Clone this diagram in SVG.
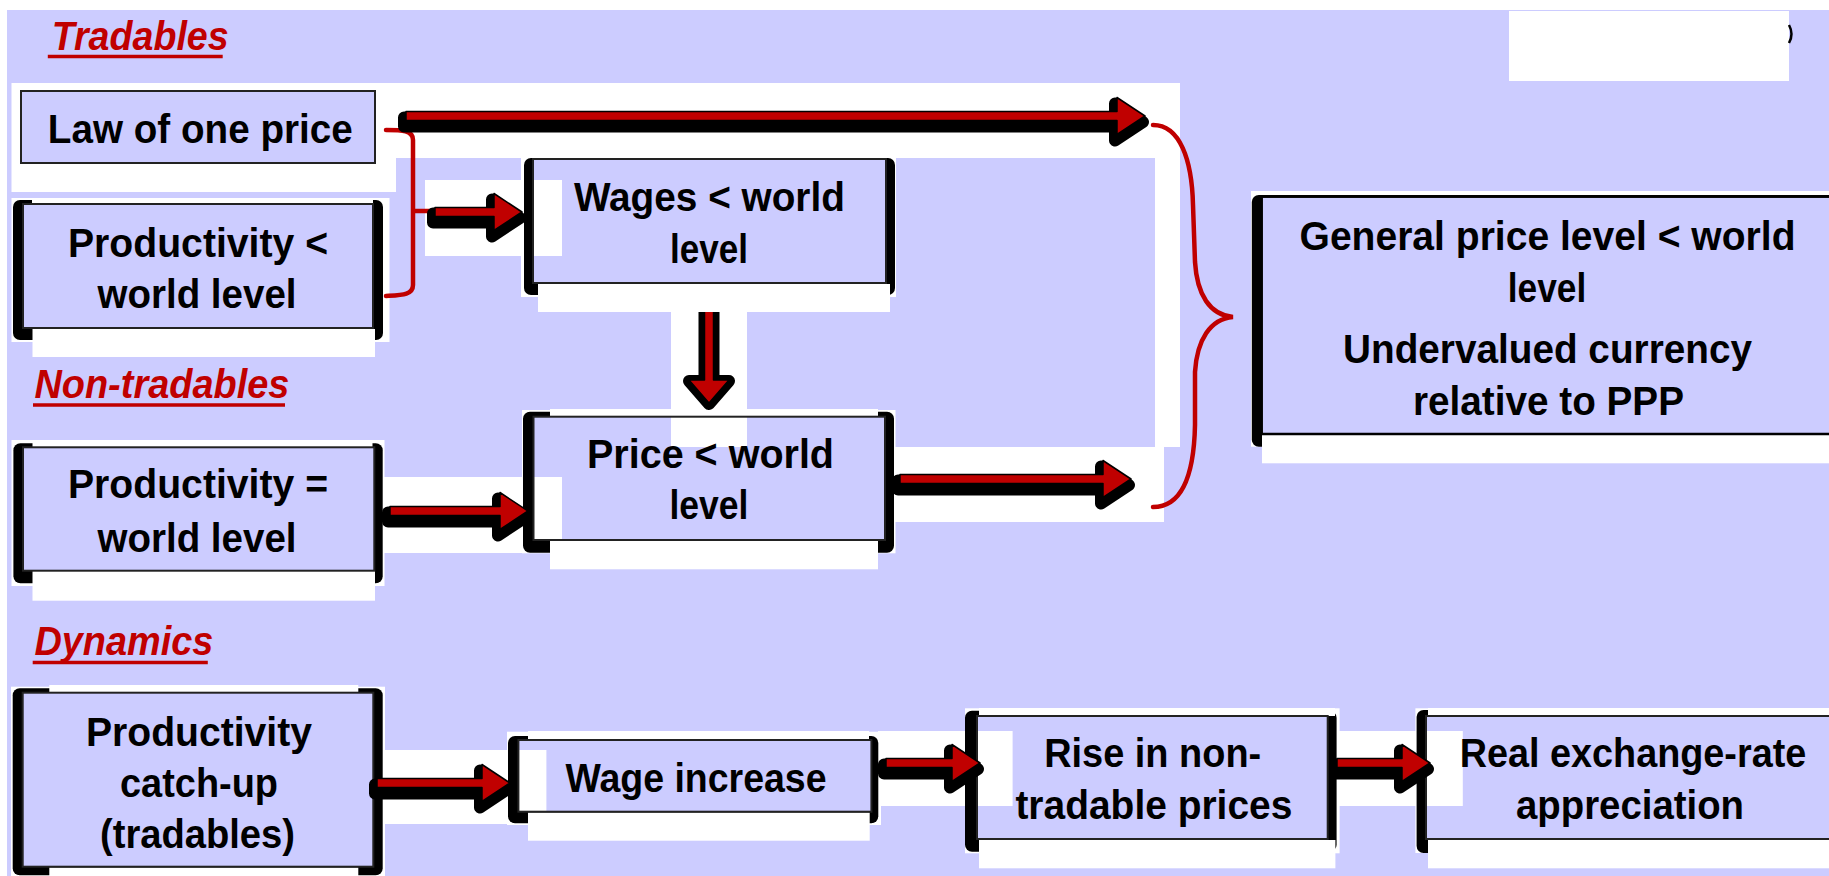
<svg xmlns="http://www.w3.org/2000/svg" xmlns:xlink="http://www.w3.org/1999/xlink" width="1829" height="876" viewBox="0 0 1829 876">
<style>
.bk{fill:#000}
.w{fill:#fff}
.fl{fill:#CCCCFF}
.bd{fill:none;stroke:#222;stroke-width:2}
.t{font-family:"Liberation Sans",Arial,Helvetica,sans-serif;font-weight:700;font-size:41px;fill:#000;text-anchor:middle}
.lb{font-family:"Liberation Sans",Arial,Helvetica,sans-serif;font-weight:700;font-style:italic;font-size:41px;fill:#C00000}
.ul{stroke:#C00000;stroke-width:3.5}
.sh{fill:#000;stroke:#000;stroke-width:12;stroke-linejoin:round}
.ar{fill:#C00000;stroke:#000;stroke-width:1.5;stroke-linejoin:round}
.rl{fill:none;stroke:#C00000;stroke-width:4.5;stroke-linecap:round}
</style>
<defs>
<path id="a1" d="M406,111.5 H1117 V97.5 L1145,116 L1117,134.5 V120.5 H406 Z"/>
<path id="a2" d="M435,207.5 H494 V193.5 L522,212 L494,230.5 V216.5 H435 Z"/>
<path id="a3" d="M390,506.5 H500 V492.5 L528,511 L500,529.5 V515.5 H390 Z"/>
<path id="a4" d="M900,474.5 H1103 V460.5 L1131,479 L1103,497.5 V483.5 H900 Z"/>
<path id="a5" d="M377,778.5 H482 V764.5 L510,783 L482,801.5 V787.5 H377 Z"/>
<path id="a6" d="M886,758.5 H952 V744.5 L980,763 L952,781.5 V767.5 H886 Z"/>
<path id="a7" d="M1337,758.5 H1402 V744.5 L1430,763 L1402,781.5 V767.5 H1337 Z"/>
<path id="av" d="M704.5,300 V380 H689 L709,403 L729,380 H713.5 V300 Z"/>
<clipPath id="cv"><rect x="600" y="312" width="200" height="110"/></clipPath>
</defs>

<g id="background">
<rect x="0" y="0" width="1829" height="876" fill="#fff"/>
<rect x="7" y="10" width="1822" height="866" class="fl"/>
<rect class="w" x="11.5" y="83" width="384.5" height="109"/>
<rect class="w" x="11.5" y="198" width="378" height="144"/>
<rect class="w" x="521" y="158" width="375" height="139"/>
<rect class="w" x="522" y="410" width="373.5" height="143.3"/>
<rect class="w" x="11.5" y="440" width="373" height="146"/>
<rect class="w" x="11" y="686.7" width="374" height="190"/>
<rect class="w" x="507" y="731.7" width="374" height="93.3"/>
<rect class="w" x="965" y="708.3" width="374.6" height="145"/>
<rect class="w" x="1415.4" y="708.3" width="414" height="144.7"/>
<rect class="w" x="1251" y="191" width="578" height="255.7"/>
<rect class="w" x="1509" y="11" width="280" height="70"/>
<path d="M1789,25 Q1794,34 1789,43" fill="none" stroke="#000" stroke-width="2.5"/>
<rect class="w" x="396" y="83" width="784" height="75"/>
<rect class="w" x="1155" y="158" width="25" height="289"/>
<rect class="w" x="425" y="180" width="99" height="76"/>
<rect class="w" x="380" y="477" width="143" height="76"/>
<rect class="w" x="671" y="311.7" width="76" height="100"/>
<rect class="w" x="891" y="447" width="273" height="75"/>
<rect class="w" x="365" y="750" width="143" height="74"/>
<rect class="w" x="878" y="731" width="87" height="75"/>
<rect class="w" x="1327.7" y="731" width="89" height="75"/>
</g>

<g id="labels">
<text class="lb" x="51.7" y="50" textLength="177" lengthAdjust="spacingAndGlyphs">Tradables</text>
<line class="ul" x1="47.8" y1="56.5" x2="222.7" y2="56.5"/>
<text class="lb" x="34.4" y="398" textLength="255" lengthAdjust="spacingAndGlyphs">Non-tradables</text>
<line class="ul" x1="33" y1="405" x2="285" y2="405"/>
<text class="lb" x="34.4" y="655" textLength="179" lengthAdjust="spacingAndGlyphs">Dynamics</text>
<line class="ul" x1="32.7" y1="662.5" x2="207.8" y2="662.5"/>
</g>

<g id="law">
<rect class="fl" x="21" y="91" width="354" height="72"/>
<rect class="bd" x="21" y="91" width="354" height="72"/>
<text class="t" x="200.3" y="143" textLength="305" lengthAdjust="spacingAndGlyphs">Law of one price</text>
</g>

<g id="prod-lt">
<rect class="bk" x="13" y="200" width="370" height="140" rx="7"/>
<rect class="w" x="32" y="198" width="341" height="6"/>
<rect class="w" x="32.5" y="329" width="342.5" height="28"/>
<rect class="fl" x="23" y="204" width="350" height="124"/>
<rect class="bd" x="23" y="204" width="350" height="124"/>
<text class="t" x="198" y="257" textLength="260" lengthAdjust="spacingAndGlyphs">Productivity &lt;</text>
<text class="t" x="197" y="308" textLength="199" lengthAdjust="spacingAndGlyphs">world level</text>
</g>

<g id="wages">
<rect class="bk" x="524" y="158" width="371" height="137" rx="7"/>
<rect class="w" x="537" y="155" width="347" height="4"/>
<rect class="w" x="538" y="284" width="352" height="28"/>
<rect class="fl" x="533" y="159" width="353" height="124"/>
<rect class="w" x="533" y="180" width="29" height="76"/>
<rect class="bd" x="533" y="159" width="353" height="124"/>
<text class="t" x="709.4" y="211" textLength="271" lengthAdjust="spacingAndGlyphs">Wages &lt; world</text>
<text class="t" x="709" y="263" textLength="78" lengthAdjust="spacingAndGlyphs">level</text>
</g>

<g id="price">
<rect class="bk" x="523" y="411.7" width="371" height="141" rx="7"/>
<rect class="w" x="550" y="409" width="328" height="7.7"/>
<rect class="w" x="550" y="541" width="328" height="28.3"/>
<rect class="fl" x="533.5" y="416.7" width="351.5" height="123.3"/>
<rect class="w" x="533.5" y="477" width="28.5" height="63"/>
<rect class="w" x="671" y="416.7" width="76" height="30.3"/>
<rect class="bd" x="533.5" y="416.7" width="351.5" height="123.3"/>
<text class="t" x="710.5" y="468" textLength="247" lengthAdjust="spacingAndGlyphs">Price &lt; world</text>
<text class="t" x="709" y="519" textLength="79" lengthAdjust="spacingAndGlyphs">level</text>
</g>

<g id="prod-eq">
<rect class="bk" x="13.4" y="443.3" width="369.3" height="140" rx="7"/>
<rect class="w" x="32.5" y="440" width="340" height="7.3"/>
<rect class="w" x="32.5" y="571" width="342.5" height="29.7"/>
<rect class="fl" x="23" y="447.3" width="351.3" height="123.4"/>
<rect class="bd" x="23" y="447.3" width="351.3" height="123.4"/>
<text class="t" x="198" y="498" textLength="260" lengthAdjust="spacingAndGlyphs">Productivity =</text>
<text class="t" x="197" y="552" textLength="199" lengthAdjust="spacingAndGlyphs">world level</text>
</g>

<g id="general">
<rect class="bk" x="1251.8" y="195" width="600" height="251.7" rx="7"/>
<rect class="w" x="1262" y="435" width="567" height="28.3"/>
<rect class="fl" x="1261.7" y="196.7" width="600" height="237.3"/>
<rect class="bd" x="1261.7" y="196.7" width="600" height="237.3" style="stroke:#000;stroke-width:2.5"/>
<text class="t" x="1547.5" y="250" textLength="496" lengthAdjust="spacingAndGlyphs">General price level &lt; world</text>
<text class="t" x="1547" y="302" textLength="78.5" lengthAdjust="spacingAndGlyphs">level</text>
<text class="t" x="1547.5" y="363" textLength="409" lengthAdjust="spacingAndGlyphs">Undervalued currency</text>
<text class="t" x="1548.5" y="415" textLength="271" lengthAdjust="spacingAndGlyphs">relative to PPP</text>
</g>

<g id="catchup">
<rect class="bk" x="12.7" y="688.3" width="370" height="187" rx="7"/>
<rect class="w" x="49.3" y="685" width="309" height="7.5"/>
<rect class="w" x="49.3" y="867.5" width="309" height="9"/>
<rect class="fl" x="22.7" y="692.7" width="350.6" height="174"/>
<rect class="bd" x="22.7" y="692.7" width="350.6" height="174"/>
<text class="t" x="199" y="746" textLength="226" lengthAdjust="spacingAndGlyphs">Productivity</text>
<text class="t" x="199" y="797" textLength="158" lengthAdjust="spacingAndGlyphs">catch-up</text>
<text class="t" x="197.5" y="848" textLength="195" lengthAdjust="spacingAndGlyphs">(tradables)</text>
</g>

<g id="wage-inc">
<rect class="bk" x="508" y="736" width="370.3" height="87.3" rx="7"/>
<rect class="w" x="528" y="731" width="341" height="9"/>
<rect class="w" x="528" y="812.5" width="341.7" height="28.2"/>
<rect class="fl" x="518.4" y="740" width="353" height="71.7"/>
<rect class="w" x="518.4" y="750" width="28" height="61.7"/>
<rect class="bd" x="518.4" y="740" width="353" height="71.7"/>
<text class="t" x="696" y="792" textLength="261" lengthAdjust="spacingAndGlyphs">Wage increase</text>
</g>

<g id="rise">
<rect class="bk" x="965" y="710.7" width="371.6" height="141" rx="7"/>
<rect class="w" x="979" y="708" width="356" height="8"/>
<rect class="w" x="979" y="840" width="356.4" height="28.3"/>
<rect class="fl" x="977" y="716" width="350.7" height="123"/>
<rect class="w" x="977" y="731" width="35.6" height="75"/>
<rect class="bd" x="977" y="716" width="350.7" height="123"/>
<text class="t" x="1152.7" y="767" textLength="217" lengthAdjust="spacingAndGlyphs">Rise in non-</text>
<text class="t" x="1153.9" y="819" textLength="277" lengthAdjust="spacingAndGlyphs">tradable prices</text>
</g>

<g id="real">
<rect class="bk" x="1416.6" y="710" width="430" height="143" rx="7"/>
<rect class="w" x="1428" y="708" width="401" height="8"/>
<rect class="w" x="1428" y="840" width="401" height="28.3"/>
<rect class="fl" x="1426" y="716" width="420" height="123"/>
<rect class="w" x="1426" y="731" width="36.8" height="75"/>
<rect class="bd" x="1426" y="716" width="420" height="123"/>
<text class="t" x="1633" y="767" textLength="346.6" lengthAdjust="spacingAndGlyphs">Real exchange-rate</text>
<text class="t" x="1630" y="819" textLength="228" lengthAdjust="spacingAndGlyphs">appreciation</text>
</g>

<g id="connectors">
<path class="rl" d="M386,130 C402,130 413,130 413,140 L413,285 C413,295 402,295 386,296"/>
<path class="rl" d="M413,211 H440" style="stroke-linecap:butt"/>
<path class="rl" d="M1153,125 C1180,125 1192,160 1193,205 L1195,262 C1197,295 1210,315 1233,317 C1210,319 1197,340 1195,372 L1195,425 C1194,475 1182,507 1153,507"/>
<use xlink:href="#a1" class="sh" transform="translate(-2,6)"/><use xlink:href="#a1" class="ar"/>
<use xlink:href="#a2" class="sh" transform="translate(-2,6)"/><use xlink:href="#a2" class="ar"/>
<use xlink:href="#a3" class="sh" transform="translate(-2,6)"/><use xlink:href="#a3" class="ar"/>
<use xlink:href="#a4" class="sh" transform="translate(-2,6)"/><use xlink:href="#a4" class="ar"/>
<use xlink:href="#a5" class="sh" transform="translate(-2,6)"/><use xlink:href="#a5" class="ar"/>
<use xlink:href="#a6" class="sh" transform="translate(-2,6)"/><use xlink:href="#a6" class="ar"/>
<use xlink:href="#a7" class="sh" transform="translate(-2,6)"/><use xlink:href="#a7" class="ar"/>
<g clip-path="url(#cv)">
<use xlink:href="#av" class="sh" transform="translate(0,1)"/><use xlink:href="#av" class="ar"/>
</g>
</g>
</svg>
